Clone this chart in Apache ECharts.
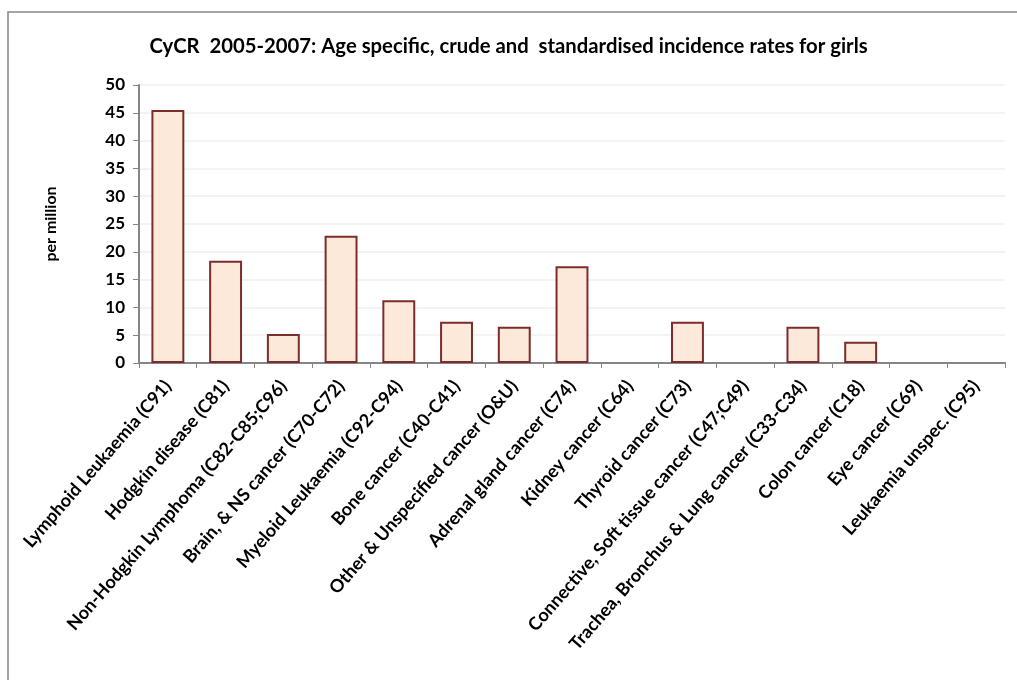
<!DOCTYPE html>
<html><head><meta charset="utf-8">
<script src="https://cdn.jsdelivr.net/npm/echarts@6/dist/echarts.min.js"></script>
<style>html,body{margin:0;padding:0;background:#fff}#c{width:1017px;height:680px}</style>
</head><body><div id="c"></div>
<script>
const categories = ["Lymphoid Leukaemia (C91)","Hodgkin disease (C81)","Non-Hodgkin Lymphoma (C82-C85;C96)","Brain, & NS cancer (C70-C72)","Myeloid Leukaemia (C92-C94)","Bone cancer (C40-C41)","Other & Unspecified cancer (O&U)","Adrenal gland cancer (C74)","Kidney cancer (C64)","Thyroid cancer (C73)","Connective, Soft tissue cancer (C47;C49)","Trachea, Bronchus & Lung cancer (C33-C34)","Colon cancer (C18)","Eye cancer (C69)","Leukaemia unspec. (C95)"];
const rates = [45.5, 18.4, 5.2, 22.9, 11.3, 7.4, 6.5, 17.4, 0, 7.4, 0, 6.5, 3.8, 0, 0];
const titleText = "CyCR  2005-2007: Age specific, crude and  standardised incidence rates for girls";
const yName = "per million";

const FONT = "Lato";
const barData = rates.map(v => v === 0 ? {value: v, itemStyle: {borderWidth: 0}} : v);
const chart = echarts.init(document.getElementById('c'), null, {renderer:'canvas'});
chart.setOption({
  animation:false,
  backgroundColor:'#fff',
  graphic:[{type:'rect',shape:{x:8,y:12,width:1100,height:1000},style:{fill:'none',stroke:'#868686',lineWidth:1.5},silent:true}],
  title:{text:titleText,left:'center',top:31,textStyle:{fontFamily:FONT,fontWeight:'bold',fontSize:20.3,color:'#000'}},
  grid:{left:139,right:12,top:85,bottom:317,containLabel:false},
  xAxis:{type:'category',data:categories,
    axisLine:{lineStyle:{color:'#868686',width:2}},
    axisTick:{show:true,length:5,lineStyle:{color:'#868686'}},
    axisLabel:{interval:0,rotate:49,margin:20,fontFamily:FONT,fontWeight:'bold',fontSize:18,color:'#000'}},
  yAxis:{type:'value',min:0,max:50,interval:5,name:yName,nameLocation:'middle',nameGap:80,nameRotate:90,
    nameTextStyle:{fontFamily:FONT,fontWeight:'bold',fontSize:16,color:'#000'},
    axisLine:{show:true,lineStyle:{color:'#868686',width:2}},
    axisTick:{show:true,length:6,lineStyle:{color:'#868686'}},
    splitLine:{show:true,lineStyle:{color:'#efefef',width:1.5}},
    axisLabel:{margin:14,fontFamily:FONT,fontWeight:'bold',fontSize:17,color:'#000'}},
  series:[{type:'bar',data:barData,barCategoryGap:'43%',
    itemStyle:{color:'#fde9d9',borderColor:'#7b2c2c',borderWidth:2}}]
});
</script></body></html>
